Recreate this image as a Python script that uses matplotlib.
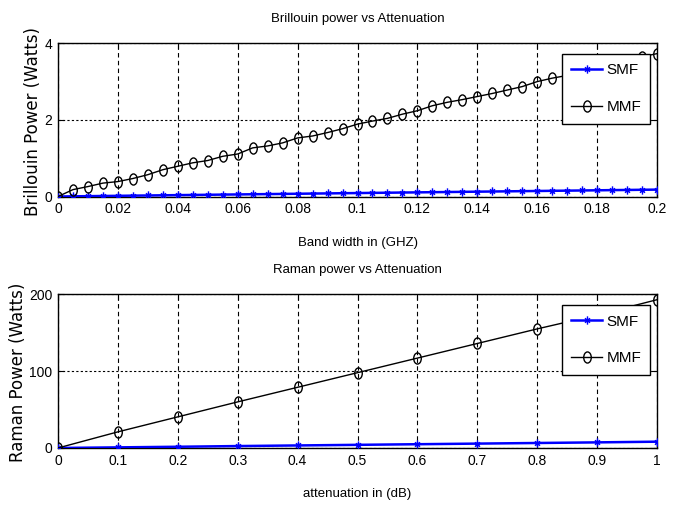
import matplotlib
matplotlib.use("Agg")
import matplotlib.pyplot as plt
import numpy as np
from matplotlib.path import Path
from matplotlib.markers import MarkerStyle

# ---------------- data ----------------
bw_ghz = [0.000, 0.005, 0.010, 0.015, 0.020, 0.025, 0.030, 0.035, 0.040, 0.045,
          0.050, 0.055, 0.060, 0.065, 0.070, 0.075, 0.080, 0.085, 0.090, 0.095,
          0.100, 0.105, 0.110, 0.115, 0.120, 0.125, 0.130, 0.135, 0.140, 0.145,
          0.150, 0.155, 0.160, 0.165, 0.170, 0.175, 0.180, 0.185, 0.190, 0.195,
          0.200]
brill_mmf = [0.00, 0.18, 0.26, 0.35, 0.39, 0.47, 0.57, 0.70, 0.79, 0.88,
             0.94, 1.05, 1.11, 1.27, 1.32, 1.40, 1.53, 1.58, 1.67, 1.77,
             1.89, 1.97, 2.04, 2.15, 2.24, 2.37, 2.46, 2.53, 2.61, 2.69,
             2.78, 2.87, 3.00, 3.09, 3.16, 3.25, 3.33, 3.42, 3.55, 3.65,
             3.73]
brill_smf = [0.000, 0.005, 0.009, 0.014, 0.018, 0.023, 0.027, 0.032, 0.036, 0.041,
             0.045, 0.050, 0.054, 0.059, 0.063, 0.068, 0.072, 0.077, 0.081, 0.086,
             0.090, 0.095, 0.099, 0.104, 0.108, 0.113, 0.117, 0.122, 0.126, 0.131,
             0.135, 0.140, 0.144, 0.149, 0.153, 0.158, 0.162, 0.167, 0.171, 0.176,
             0.180]

att_db = [0.0, 0.1, 0.2, 0.3, 0.4, 0.5, 0.6, 0.7, 0.8, 0.9, 1.0]
raman_mmf = [0, 21, 40.5, 60, 79, 98, 117, 136, 155, 173, 193]
raman_smf = [0, 0.8, 1.6, 2.5, 3.3, 4.1, 4.9, 5.7, 6.5, 7.3, 8.2]

top_xticks = [0, 0.02, 0.04, 0.06, 0.08, 0.1, 0.12, 0.14, 0.16, 0.18, 0.2]
top_xticklabels = ["0", "0.02", "0.04", "0.06", "0.08", "0.1", "0.12", "0.14", "0.16", "0.18", "0.2"]
top_yticks = [0, 2, 4]
bot_xticks = [0, 0.1, 0.2, 0.3, 0.4, 0.5, 0.6, 0.7, 0.8, 0.9, 1.0]
bot_xticklabels = ["0", "0.1", "0.2", "0.3", "0.4", "0.5", "0.6", "0.7", "0.8", "0.9", "1"]
bot_yticks = [0, 100, 200]

# ---------------- fonts ----------------
NARROW = ["Liberation Sans", "DejaVu Sans"]
WIDE = ["DejaVu Sans"]

# ---------------- markers ----------------
circ = Path.unit_circle()
ell = Path(circ.vertices * np.array([0.68, 1.0]), circ.codes)
ell_marker = MarkerStyle(ell)
ast = Path([[0, -1], [0, 1], [-0.6, -0.55], [0.6, 0.55], [-0.6, 0.55], [0.6, -0.55],
            [-0.6, 0], [0.6, 0]],
           [Path.MOVETO, Path.LINETO] * 4)
star_marker = MarkerStyle(ast)

fig = plt.figure(figsize=(6.8, 5.07), dpi=100)
ax1 = fig.add_axes([0.0853, 0.6124, 0.8809, 0.3022])
ax2 = fig.add_axes([0.0853, 0.1164, 0.8809, 0.3031])


def style(ax, xticks, xlabels, yticks, xlim, ylim):
    ax.set_xlim(*xlim)
    ax.set_ylim(*ylim)
    ax.set_xticks(xticks)
    ax.set_xticklabels(xlabels, family=NARROW, fontsize=10)
    ax.set_yticks(yticks)
    ax.set_yticklabels([str(v) for v in yticks], family=NARROW, fontsize=10)
    ax.tick_params(direction="in", length=4, width=0.8, top=True, right=True, pad=4)
    ax.xaxis.grid(True, color="black", linestyle=(0, (4, 3)), linewidth=0.8)
    ax.yaxis.grid(True, color="black", linestyle=(0, (2, 2)), linewidth=0.8)
    ax.set_axisbelow(True)
    for s in ax.spines.values():
        s.set_linewidth(1.0)
        s.set_color("black")


# ---- top ----
ax1.plot(bw_ghz, brill_smf, color=(0, 0, 1), linewidth=1.8, marker=star_marker,
         markersize=6, markeredgewidth=1.0, label="SMF", zorder=3)
ax1.plot(bw_ghz, brill_mmf, color="black", linewidth=1.0, marker=ell_marker,
         markersize=8, markerfacecolor="none", markeredgewidth=1.0, label="MMF", zorder=4)
style(ax1, top_xticks, top_xticklabels, top_yticks, (0, 0.2), (0, 4))
ax1.set_title("Brillouin power vs Attenuation", family=NARROW, fontsize=9.5, pad=15)
ax1.set_xlabel("Band width in (GHZ)", family=NARROW, fontsize=9.5, labelpad=15)
ax1.set_ylabel("Brillouin Power (Watts)", family=WIDE, fontsize=12)
ax1.yaxis.set_label_coords(-0.027, 0.49)

# ---- bottom ----
ax2.plot(att_db, raman_smf, color=(0, 0, 1), linewidth=1.8, marker=star_marker,
         markersize=6, markeredgewidth=1.0, label="SMF", zorder=3)
ax2.plot(att_db, raman_mmf, color="black", linewidth=1.0, marker=ell_marker,
         markersize=8, markerfacecolor="none", markeredgewidth=1.0, label="MMF", zorder=4)
style(ax2, bot_xticks, bot_xticklabels, bot_yticks, (0, 1), (0, 200))
ax2.set_title("Raman power vs Attenuation", family=NARROW, fontsize=9.5, pad=15)
ax2.set_xlabel("attenuation in (dB)", family=NARROW, fontsize=9.5, labelpad=15)
ax2.set_ylabel("Raman Power (Watts)", family=WIDE, fontsize=12)
ax2.yaxis.set_label_coords(-0.052, 0.49)

for ax in (ax1, ax2):
    leg = ax.legend(loc="upper right", bbox_to_anchor=(0.989, 0.928),
                    prop={"family": NARROW, "size": 11}, fancybox=False,
                    edgecolor="black", framealpha=1, borderpad=0.6,
                    labelspacing=1.5, handlelength=2.0, handletextpad=0.3,
                    borderaxespad=0)
    leg.get_frame().set_linewidth(1.0)
    leg.set_zorder(10)

fig.savefig("out.png", dpi=100)
